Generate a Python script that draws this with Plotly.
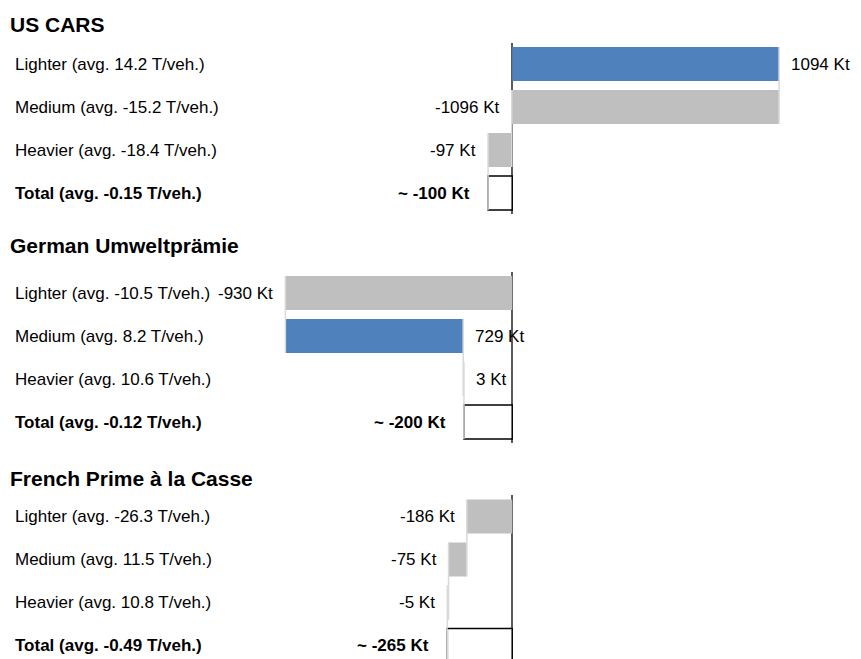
import plotly.graph_objects as go

# ---- data ----
panel_titles = ["US CARS", "German Umweltprämie", "French Prime à la Casse"]

us_categories = ["Lighter (avg. 14.2 T/veh.)", "Medium (avg. -15.2 T/veh.)",
                 "Heavier (avg. -18.4 T/veh.)", "Total (avg. -0.15 T/veh.)"]
de_categories = ["Lighter (avg. -10.5 T/veh.)", "Medium (avg. 8.2 T/veh.)",
                 "Heavier (avg. 10.6 T/veh.)", "Total (avg. -0.12 T/veh.)"]
fr_categories = ["Lighter (avg. -26.3 T/veh.)", "Medium (avg. 11.5 T/veh.)",
                 "Heavier (avg. 10.8 T/veh.)", "Total (avg. -0.49 T/veh.)"]

us_values = [1094, -1096, -97]
de_values = [-930, 729, 3]
fr_values = [-186, -75, -5]

total_labels = ["~ -100 Kt", "~ -200 Kt", "~ -265 Kt"]

# ---- layout helpers ----
W, H = 861, 659
FONT = "Liberation Sans, Arial, sans-serif"
BLUE = "#4F81BD"
GREY = "#BFBFBF"
LABEL_SIZE = 17
TITLE_SIZE = 21
LABEL_GAP = 10  # px between bar end and its value label

panels = [
    (us_categories, us_values, total_labels[0]),
    (de_categories, de_values, total_labels[1]),
    (fr_categories, fr_values, total_labels[2]),
]
# panel top/bottom pixel positions
px_domains = [(42.5, 213.5), (271.6, 443.0), (495.0, 659.0)]
row_px = 43.0
title_px = [25, 245, 478]

fig = go.Figure()
annotations = []
layout_axes = {}

for i, (cats, vals, tot) in enumerate(panels):
    sfx = "" if i == 0 else str(i + 1)
    xname, yname = "x" + sfx, "y" + sfx
    fig.add_trace(go.Waterfall(
        orientation="h",
        y=cats,
        x=vals + [0],
        measure=["relative"] * len(vals) + ["total"],
        increasing=dict(marker=dict(color=BLUE, line=dict(width=0))),
        decreasing=dict(marker=dict(color=GREY, line=dict(width=0))),
        totals=dict(marker=dict(color="white", line=dict(color="black", width=1.5))),
        connector=dict(mode="spanning", line=dict(color="#D9D9D9", width=1.5)),
        cliponaxis=False,
        hoverinfo="skip",
        xaxis=xname, yaxis=yname,
        showlegend=False,
    ))
    # value labels, placed at the outer end of each bar
    running = 0
    for j, v in enumerate(vals):
        running += v
        neg = v < 0
        annotations.append(dict(
            text=f"{v} Kt", xref=xname, yref=yname, x=running, y=cats[j],
            xanchor="right" if neg else "left", yanchor="middle",
            xshift=-LABEL_GAP if neg else LABEL_GAP, showarrow=False,
            font=dict(size=LABEL_SIZE, color="black", family=FONT),
        ))
    annotations.append(dict(
        text=f"<b>{tot}</b>", xref=xname, yref=yname, x=running, y=cats[-1],
        xanchor="right" if running < 0 else "left", yanchor="middle",
        xshift=-LABEL_GAP * 1.6 if running < 0 else LABEL_GAP, showarrow=False,
        font=dict(size=LABEL_SIZE, color="black", family=FONT),
    ))

    top, bot = px_domains[i]
    dom = [(H - bot) / H, (H - top) / H]
    n_rows_visible = (bot - top) / row_px
    layout_axes["xaxis" + sfx] = dict(
        domain=[0, 1], anchor=yname, range=[-2100, 1430],
        showticklabels=False, showgrid=False, ticks="",
        zeroline=True, zerolinecolor="#5A5A5A", zerolinewidth=2, showline=False,
    )
    layout_axes["yaxis" + sfx] = dict(
        domain=dom, anchor=xname, type="category",
        range=[-0.5 + n_rows_visible, -0.5],
        showticklabels=False, showgrid=False, zeroline=False, ticks="", showline=False,
    )
    annotations.append(dict(
        text=f"<b>{panel_titles[i]}</b>", xref="paper", yref="paper",
        x=8 / W, y=(H - title_px[i]) / H, xanchor="left", yanchor="middle",
        showarrow=False, font=dict(size=TITLE_SIZE, color="black", family=FONT),
    ))
    for j, c in enumerate(cats):
        label = f"<b>{c}</b>" if j == len(cats) - 1 else c
        annotations.append(dict(
            text=label, xref="paper", yref=yname, x=13 / W, y=c,
            xanchor="left", yanchor="middle", showarrow=False,
            font=dict(size=LABEL_SIZE, color="black", family=FONT),
        ))

fig.update_layout(
    width=W, height=H,
    margin=dict(l=0, r=0, t=0, b=0),
    paper_bgcolor="white", plot_bgcolor="white",
    waterfallgap=0.21,
    annotations=annotations,
    **layout_axes,
)

fig.write_html("out.html", config={"displayModeBar": False},
               post_script="document.body.style.margin='0';")
